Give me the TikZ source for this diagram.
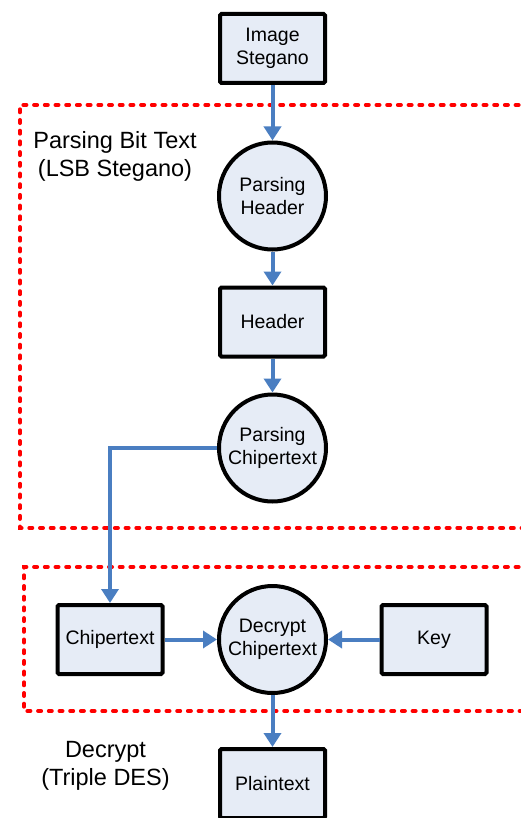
\documentclass[tikz,border=0pt]{standalone}
\usepackage{fontspec}
\setmainfont{Liberation Sans}
\usepackage[dvipsnames]{xcolor}
\usepackage{tikz}
\usetikzlibrary{arrows.meta,positioning,calc}
\definecolor{boxfill}{HTML}{E6ECF6}
\definecolor{flowblue}{HTML}{4A7EC1}

\begin{document}
\begin{tikzpicture} [
  x=1pt, y=-1pt,
  data node/.style= {rectangle,draw,line width=4pt,rounded corners=1.5pt,fill=boxfill,
    minimum width=105pt,minimum height=69pt,align=center,
    font=\fontsize{19.5}{23.5}\selectfont},
  proc node/.style= {circle,draw,line width=4pt,fill=boxfill,minimum size=107pt,
    inner sep=0pt,align=center,font=\fontsize{19.5}{23}\selectfont},
  group label/.style= {align=center,font=\fontsize{23.5}{28}\selectfont},
  group box/.style= {draw=red,line width=4pt,line cap=round,dash pattern=on 3pt off 7.7pt},
  flow edge/.style= {draw=flowblue,line width=4pt,-{Triangle[width=17pt,length=14pt]}}
]
\useasboundingbox (0,0) rectangle (520,818);

% dashed groups
\draw [group box] (540,105) -| (20,528) -- (540,528);
\draw [group box] (540,567) -| (24,711) -- (540,711);
\node (G1) [group label] at (115,156) {Parsing Bit Text\\(LSB Stegano)};
\node (G2) [group label] at (105.5,766) {Decrypt\\(Triple DES)};

% nodes
\node (S) [data node] at (272.5,48.5) {Image\\Stegano};
\node (PH) [proc node] at (272.5,196) {Parsing\\Header};
\node (H) [data node] at (272.5,322) {Header};
\node (PC) [proc node] at (272.5,448) {Parsing\\Chipertext};
\node (C) [data node] at (110,639.5) {Chipertext};
\node (D) [proc node] at (272.5,639.5) {Decrypt\\Chipertext};
\node (K) [data node] at (434,639.5) {Key};
\node (P) [data node] at (272.5,783.5) {Plaintext};

% flow
\draw [flow edge] (S) -- (PH);
\draw [flow edge] (PH) -- (H);
\draw [flow edge] (H) -- (PC);
\draw [flow edge] (PC.west) -| (C.north);
\draw [flow edge] (C) -- (D);
\draw [flow edge] (K) -- (D);
\draw [flow edge] (D) -- (P);
\end{tikzpicture}
\end{document}
